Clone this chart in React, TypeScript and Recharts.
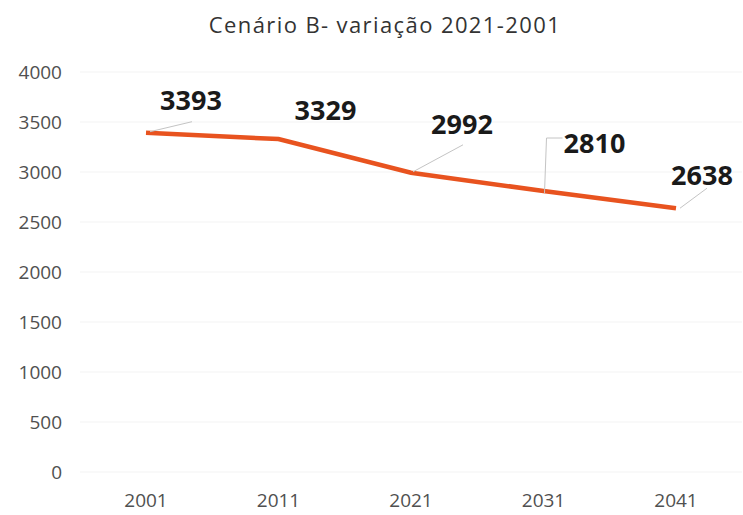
import React from "react";
import { LineChart, Line, XAxis, YAxis, CartesianGrid, LabelList } from "recharts";

const years = ["2001", "2011", "2021", "2031", "2041"];
const population = [3393, 3329, 2992, 2810, 2638];
const yTicks = [0, 500, 1000, 1500, 2000, 2500, 3000, 3500, 4000];
const title = "Cenário B- variação 2021-2001";

const data = years.map((y, i) => ({ year: y, value: population[i] }));

// label placement relative to each point (style only)
const labelOffsets = [
  { dx: 45, dy: -33, leader: [[4, -1], [46, -11]] },
  { dx: 47, dy: -30, leader: null },
  { dx: 51, dy: -49, leader: [[2, -1], [52, -28]] },
  { dx: 51, dy: -49, leader: [[1, 2], [3, -53], [19, -53]] },
  { dx: 26, dy: -34, leader: [[4, 0], [31, -20]] },
];

const FONT = "'Open Sans', 'Liberation Sans', sans-serif";

const DataLabel = (props: any) => {
  const { x, y, value, index } = props;
  const o = labelOffsets[index];
  if (!o) return null;
  return (
    <g>
      {o.leader && (
        <polyline
          points={o.leader.map((p: number[]) => `${x + p[0]},${y + p[1]}`).join(" ")}
          fill="none"
          stroke="#c4c4c4"
          strokeWidth={1}
        />
      )}
      <text
        x={x + o.dx}
        y={y + o.dy}
        textAnchor="middle"
        dominantBaseline="central"
        fontFamily={FONT}
        fontWeight={700}
        fontSize={27}
        fill="#1a1a1a"
      >
        {value}
      </text>
    </g>
  );
};

export default function App() {
  return (
    <div style={{ position: "absolute", left: 0, top: 0, width: 743, height: 515, background: "#fff" }}>
      <div
        style={{
          position: "absolute",
          left: 0,
          top: 8,
          width: 770,
          textAlign: "center",
          fontFamily: FONT,
          fontSize: 22,
          letterSpacing: 1.4,
          color: "#333",
          lineHeight: "32px",
        }}
      >
        {title}
      </div>
      <LineChart width={743} height={515} data={data} margin={{ top: 72, right: 1, bottom: 13, left: 0 }}>
        <CartesianGrid vertical={false} stroke="#f3f3f3" />
        <XAxis
          dataKey="year"
          height={30}
          padding={{ left: 66, right: 66 }}
          axisLine={false}
          tickLine={false}
          tickSize={0}
          tickMargin={22}
          tick={{ fontFamily: FONT, fontSize: 19, fill: "#505050" }}
        />
        <YAxis
          width={80}
          domain={[0, 4000]}
          ticks={yTicks}
          axisLine={false}
          tickLine={false}
          tickSize={0}
          tickMargin={18}
          tick={{ fontFamily: FONT, fontSize: 19, fill: "#505050" }}
        />
        <Line
          type="linear"
          dataKey="value"
          stroke="#e8531f"
          strokeWidth={4.5}
          dot={false}
          isAnimationActive={false}
        >
          <LabelList dataKey="value" content={<DataLabel />} />
        </Line>
      </LineChart>
    </div>
  );
}
